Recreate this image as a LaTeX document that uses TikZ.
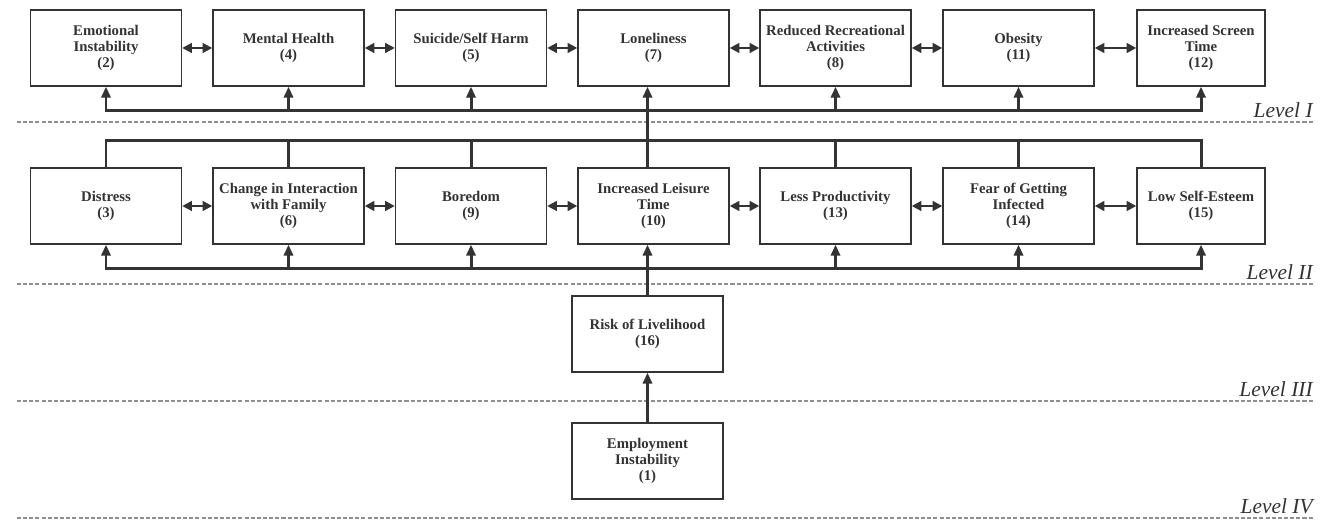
\documentclass[tikz,border=0pt]{standalone}
\usepackage{fontspec}
\setmainfont{Liberation Serif}
\usetikzlibrary{arrows.meta}
\definecolor{ink}{HTML}{333333}
\definecolor{rule}{HTML}{8F8F8F}
\tikzset{
  box/.style={draw=ink,line width=0.8pt,fill=white,minimum width=3.02cm,minimum height=1.52cm,
    align=center,inner sep=1pt,text=ink,font=\fontsize{8.4}{9.1}\selectfont\bfseries},
  link/.style={draw=ink,line width=1.7pt,line cap=rect},
  up/.style={link,-{Triangle[length=6.2pt,width=5.2pt]}},
  both/.style={draw=ink,line width=1.3pt,{Triangle[length=5.5pt,width=5.5pt]}-{Triangle[length=5.5pt,width=5.5pt]}},
  level/.style={draw=rule,line width=1.1pt,dash pattern=on 2.3pt off 1.2pt},
  lvl/.style={anchor=base east,inner sep=0pt,text=ink,font=\fontsize{12.2}{13}\selectfont\itshape}
}
\begin{document}
\begin{tikzpicture}
\useasboundingbox[fill=white] (0,0) rectangle (26.56,10.4);
\node[box] (n2) at (2.12,9.44) {Emotional\\Instability\\(2)};
\node[box] (n4) at (5.77,9.44) {Mental Health\\(4)};
\node[box] (n5) at (9.42,9.44) {Suicide/Self Harm\\(5)};
\node[box] (n7) at (13.07,9.44) {Loneliness\\(7)};
\node[box] (n8) at (16.71,9.44) {Reduced Recreational\\Activities\\(8)};
\node[box] (n11) at (20.37,9.44) {Obesity\\(11)};
\node[box,minimum width=2.56cm] (n12) at (24.02,9.44) {Increased Screen\\Time\\(12)};
\node[box] (n3) at (2.12,6.28) {Distress\\(3)};
\node[box] (n6) at (5.77,6.28) {Change in Interaction\\with Family\\(6)};
\node[box] (n9) at (9.42,6.28) {Boredom\\(9)};
\node[box] (n10) at (13.07,6.28) {Increased Leisure\\Time\\(10)};
\node[box] (n13) at (16.71,6.28) {Less Productivity\\(13)};
\node[box] (n14) at (20.37,6.28) {Fear of Getting\\Infected\\(14)};
\node[box,minimum width=2.56cm] (n15) at (24.02,6.28) {Low Self-Esteem\\(15)};
\node[box] (n16) at (12.95,3.72) {Risk of Livelihood\\(16)};
\node[box] (n1) at (12.95,1.18) {Employment\\Instability\\(1)};
\coordinate (busI) at (0,8.18);
\coordinate (busIIa) at (0,7.58);
\coordinate (busIIb) at (0,5.02);
\foreach \y/\t in {7.96/I,4.72/II,2.38/III,0.04/IV}{
  \draw[level] (0.34,\y) -- (26.28,\y);
  \node[lvl] (lv\t) at (26.26,\y+0.09) {Level \t};
}
\foreach \a/\b in {2/4,4/5,5/7,7/8,8/11,11/12,3/6,6/9,9/10,10/13,13/14,14/15}
  \draw[both] (n\a) -- (n\b);
\draw[link] (n2.south|-busI) -- (n12.south|-busI);
\foreach \n in {2,4,5,8,11,12}
  \draw[up] (n\n.south|-busI) -- (n\n.south);
\draw[link] (n3.north|-busIIa) -- (n15.north|-busIIa);
\foreach \n in {3,6,9,13,14,15}
  \draw[link] (n\n.north) -- (n\n.north|-busIIa);
\draw[up] (n16.north|-n10.north) -- (n16.north|-n7.south);
\draw[link] (n3.south|-busIIb) -- (n15.south|-busIIb);
\foreach \n in {3,6,9,13,14,15}
  \draw[up] (n\n.south|-busIIb) -- (n\n.south);
\draw[up] (n16.north) -- (n16.north|-n10.south);
\draw[up] (n1) -- (n16);
\end{tikzpicture}
\end{document}
